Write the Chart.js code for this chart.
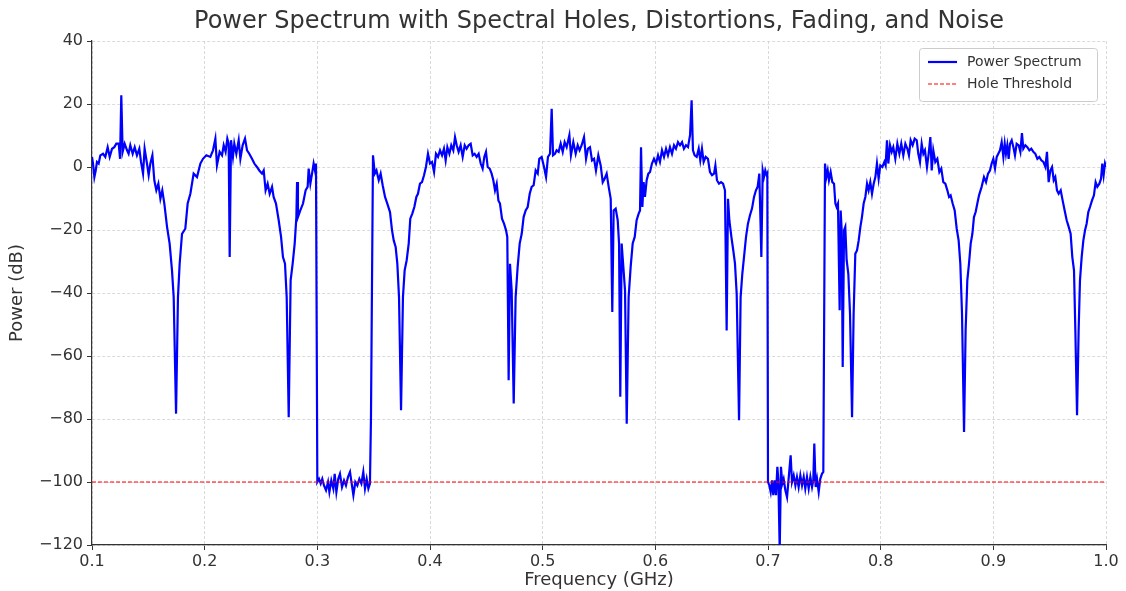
<!DOCTYPE html>
<html>
<head>
<meta charset="utf-8">
<script src="https://cdn.jsdelivr.net/npm/chart.js@4.4.1/dist/chart.umd.min.js"></script>
<style>
  html, body { margin: 0; padding: 0; background: #fff; }
  #wrap { width: 1126px; height: 591px; }
</style>
</head>
<body>
<div id="wrap"><canvas id="chart" width="1126" height="591"></canvas></div>
<script>
/* ── Data ──────────────────────────────────────────── */
const freqGHz = [
  0.1000, 0.1009, 0.1021, 0.1033, 0.1044, 0.1059, 0.1074, 0.1098, 0.1118, 0.1139,
  0.1157, 0.1178, 0.1198, 0.1216, 0.1237, 0.1249, 0.1260, 0.1272, 0.1290, 0.1311,
  0.1325, 0.1340, 0.1361, 0.1379, 0.1399, 0.1420, 0.1435, 0.1453, 0.1467, 0.1488,
  0.1503, 0.1518, 0.1536, 0.1553, 0.1571, 0.1589, 0.1607, 0.1624, 0.1642, 0.1666,
  0.1689, 0.1710, 0.1725, 0.1746, 0.1763, 0.1778, 0.1799, 0.1828, 0.1849, 0.1873,
  0.1902, 0.1932, 0.1962, 0.1985, 0.2015, 0.2050, 0.2074, 0.2095, 0.2109, 0.2133,
  0.2154, 0.2169, 0.2186, 0.2201, 0.2213, 0.2222, 0.2234, 0.2251, 0.2263, 0.2281,
  0.2302, 0.2317, 0.2337, 0.2358, 0.2376, 0.2396, 0.2420, 0.2441, 0.2464, 0.2485,
  0.2509, 0.2524, 0.2541, 0.2559, 0.2577, 0.2598, 0.2612, 0.2633, 0.2657, 0.2678,
  0.2695, 0.2713, 0.2728, 0.2746, 0.2763, 0.2781, 0.2799, 0.2814, 0.2820, 0.2828,
  0.2849, 0.2873, 0.2896, 0.2914, 0.2923, 0.2938, 0.2953, 0.2967, 0.2979, 0.2988,
  // hole 1
  0.3000, 0.3015, 0.3030, 0.3044, 0.3059, 0.3077, 0.3095, 0.3107, 0.3124, 0.3142,
  0.3154, 0.3169, 0.3186, 0.3201, 0.3219, 0.3237, 0.3254, 0.3272, 0.3290, 0.3305,
  0.3320, 0.3337, 0.3355, 0.3373, 0.3391, 0.3408, 0.3423, 0.3438, 0.3453, 0.3467,
  0.3476,
  0.3494, 0.3510, 0.3525, 0.3545, 0.3562, 0.3580, 0.3601, 0.3621, 0.3645, 0.3663,
  0.3678, 0.3695, 0.3710, 0.3725, 0.3743, 0.3760, 0.3775, 0.3793, 0.3811, 0.3825,
  0.3843, 0.3861, 0.3879, 0.3893, 0.3911, 0.3929, 0.3947, 0.3964, 0.3982, 0.4000,
  0.4018, 0.4036, 0.4053, 0.4071, 0.4089, 0.4107, 0.4124, 0.4139, 0.4154, 0.4172,
  0.4189, 0.4207, 0.4222, 0.4237, 0.4254, 0.4272, 0.4290, 0.4308, 0.4325, 0.4343,
  0.4361, 0.4379, 0.4396, 0.4414, 0.4432, 0.4450, 0.4467, 0.4482, 0.4497, 0.4512,
  0.4530, 0.4547, 0.4562, 0.4577, 0.4592, 0.4607, 0.4621, 0.4639, 0.4657, 0.4675,
  0.4686, 0.4698, 0.4710, 0.4725, 0.4743, 0.4760, 0.4778, 0.4796, 0.4814, 0.4831,
  0.4849, 0.4867, 0.4885, 0.4902, 0.4920, 0.4938, 0.4956, 0.4970,
  0.4991, 0.5012, 0.5030, 0.5047, 0.5065, 0.5080, 0.5092, 0.5109, 0.5124, 0.5142,
  0.5160, 0.5178, 0.5195, 0.5213, 0.5237, 0.5251, 0.5272, 0.5293, 0.5311, 0.5328,
  0.5346, 0.5367, 0.5385, 0.5402, 0.5420, 0.5438, 0.5456, 0.5473, 0.5494, 0.5515,
  0.5533, 0.5550, 0.5568, 0.5586, 0.5604, 0.5618, 0.5630, 0.5648, 0.5666, 0.5678,
  0.5689, 0.5701, 0.5716, 0.5731, 0.5746, 0.5763, 0.5781, 0.5799, 0.5817, 0.5834,
  0.5852, 0.5864, 0.5873, 0.5885, 0.5896, 0.5908, 0.5923, 0.5938, 0.5953, 0.5970,
  0.5988, 0.6006, 0.6024, 0.6041, 0.6059, 0.6077, 0.6095, 0.6112, 0.6130, 0.6148,
  0.6166, 0.6183, 0.6201, 0.6219, 0.6237, 0.6254, 0.6272, 0.6290, 0.6308, 0.6322,
  0.6334, 0.6349, 0.6367, 0.6385, 0.6399, 0.6414, 0.6429, 0.6447, 0.6467, 0.6485,
  0.6503, 0.6521, 0.6533, 0.6547, 0.6565, 0.6583, 0.6601, 0.6618, 0.6633, 0.6645,
  0.6657, 0.6675, 0.6692, 0.6707, 0.6722, 0.6743, 0.6757, 0.6772, 0.6787, 0.6805,
  0.6822, 0.6840, 0.6858, 0.6876, 0.6893, 0.6908, 0.6923, 0.6941, 0.6953, 0.6964,
  0.6976, 0.6988, 0.6994,
  // hole 2
  0.7000, 0.7012, 0.7024, 0.7036, 0.7047, 0.7059, 0.7071, 0.7083, 0.7092, 0.7104,
  0.7115, 0.7127, 0.7139, 0.7154, 0.7169, 0.7183, 0.7201, 0.7213, 0.7228, 0.7243,
  0.7257, 0.7272, 0.7287, 0.7302, 0.7317, 0.7331, 0.7346, 0.7361, 0.7376, 0.7391,
  0.7402, 0.7411, 0.7423, 0.7435, 0.7450, 0.7464, 0.7479, 0.7491,
  0.7506, 0.7518, 0.7530, 0.7541, 0.7556, 0.7571, 0.7586, 0.7598, 0.7609, 0.7621,
  0.7636, 0.7645, 0.7654, 0.7663, 0.7675, 0.7686, 0.7698, 0.7713, 0.7728, 0.7746,
  0.7760, 0.7775, 0.7790, 0.7805, 0.7820, 0.7834, 0.7849, 0.7864, 0.7879, 0.7893,
  0.7908, 0.7923, 0.7938, 0.7953, 0.7967, 0.7982, 0.7997, 0.8015, 0.8033, 0.8044,
  0.8056, 0.8068, 0.8083, 0.8098, 0.8112, 0.8130, 0.8148, 0.8166, 0.8183, 0.8201,
  0.8219, 0.8237, 0.8251, 0.8266, 0.8284, 0.8302, 0.8320, 0.8334, 0.8349, 0.8364,
  0.8379, 0.8393, 0.8411, 0.8426, 0.8441, 0.8453, 0.8467, 0.8485, 0.8503, 0.8521,
  0.8538, 0.8556, 0.8574, 0.8592, 0.8607, 0.8621, 0.8639, 0.8657, 0.8675, 0.8692,
  0.8707, 0.8722, 0.8740, 0.8754, 0.8769, 0.8784, 0.8799, 0.8814, 0.8828, 0.8843,
  0.8858, 0.8873, 0.8896, 0.8917, 0.8935, 0.8953, 0.8970, 0.8985, 0.9000, 0.9015,
  0.9030, 0.9044, 0.9059, 0.9074, 0.9089, 0.9101, 0.9112, 0.9124, 0.9136, 0.9148,
  0.9163, 0.9178, 0.9192, 0.9207, 0.9225, 0.9240, 0.9254, 0.9266, 0.9284, 0.9302,
  0.9320, 0.9337, 0.9355, 0.9373, 0.9391, 0.9408, 0.9426, 0.9444, 0.9462, 0.9476,
  0.9491, 0.9506, 0.9521, 0.9536, 0.9550, 0.9565, 0.9580, 0.9598, 0.9615, 0.9633,
  0.9651, 0.9669, 0.9686, 0.9701, 0.9716, 0.9728, 0.9743, 0.9757, 0.9769, 0.9784,
  0.9799, 0.9814, 0.9828, 0.9843, 0.9858, 0.9876, 0.9893, 0.9908, 0.9923, 0.9941,
  0.9956, 0.9967, 0.9979, 0.9991, 1.0000
];

const powerDb = [
  3.2, 1.1, -3.2, -1.1, 1.6, 1.1, 3.7, 4.2, 3.2, 6.3,
  3.2, 5.8, 6.3, 7.4, 7.4, 2.6, 22.8, 4.8, 7.4, 5.3,
  4.2, 6.9, 4.2, 6.3, 3.7, 5.8, 1.6, -2.1, 5.8, 1.1,
  -2.6, 1.1, 3.7, -4.2, -7.4, -5.3, -10.1, -7.4, -11.6, -19.0,
  -24.3, -32.8, -41.3, -78.3, -41.3, -30.7, -21.2, -19.6, -11.6, -8.5,
  -2.1, -3.2, 1.1, 2.6, 3.7, 3.2, 5.3, 9.0, 0.5, 4.8,
  3.7, 6.9, 4.8, 9.0, 7.4, -28.6, 8.5, 3.2, 7.4, 4.2,
  8.5, 2.6, 6.9, 9.0, 5.3, 4.2, 2.6, 1.1, 0.0, -1.1,
  -2.1, -1.1, -7.4, -5.3, -8.5, -6.3, -9.5, -11.6, -16.9, -22.2,
  -28.6, -30.7, -41.3, -79.4, -36.0, -30.7, -24.3, -15.9, -4.8, -15.9,
  -13.8, -11.6, -7.4, -6.3, -0.5, -5.3, -2.1, 1.1, -1.1, 1.1,
  // hole 1
  -100.0, -99.0, -100.5, -99.0, -101.1, -102.6, -100.0, -103.2, -99.5, -102.1,
  -97.4, -103.2, -99.0, -97.4, -101.6, -99.5, -101.1, -98.4, -96.8, -100.5,
  -104.2, -100.0, -101.1, -99.0, -100.5, -96.8, -102.1, -99.0, -102.1, -100.5,
  -79.9,
  3.7, -2.1, -1.1, -4.2, -2.1, -5.8, -9.5, -11.6, -14.3, -20.1,
  -23.3, -25.4, -30.7, -41.3, -77.2, -41.3, -32.8, -29.6, -24.3, -16.4,
  -14.8, -12.7, -9.5, -8.5, -5.3, -4.8, -2.6, 0.0, 4.2, 1.1,
  1.6, -1.6, 4.2, 3.2, 5.3, 3.7, 5.8, 2.1, 6.3, 4.2,
  6.9, 5.3, 9.5, 6.9, 4.8, 6.9, 3.2, 6.9, 5.8, 6.9,
  7.4, 3.7, 4.2, 3.2, 4.2, 1.1, -0.5, 3.2, 4.8, 0.0,
  -0.5, -2.1, -4.2, -7.4, -5.3, -10.6, -11.6, -16.4, -18.0, -20.1,
  -22.2, -67.7, -30.7, -39.2, -75.1, -41.3, -31.7, -24.3, -21.2, -15.9,
  -13.8, -12.7, -8.5, -6.3, -5.8, -1.1, -2.1, 2.6,
  3.2, 0.0, -3.2, 3.2, 4.2, 18.5, 3.7, 4.2, 5.3, 4.8,
  7.4, 4.8, 7.9, 6.3, 10.1, 3.7, 7.9, 4.2, 6.9, 5.3,
  6.9, 9.5, 2.6, 5.8, 6.3, 2.1, 2.6, -1.1, 3.7, 0.5,
  -4.8, -3.7, -2.1, -6.3, -10.1, -46.0, -13.8, -13.2, -16.9, -24.3,
  -72.9, -24.3, -31.7, -39.2, -81.5, -41.3, -31.7, -24.3, -22.2, -16.9,
  -14.8, -13.8, 6.3, -12.7, -4.8, -9.5, -4.2, -2.1, -1.6, 1.1,
  2.6, 1.1, 3.7, 1.6, 5.3, 3.2, 5.8, 3.7, 6.3, 4.2,
  6.9, 5.8, 7.9, 6.9, 7.9, 5.8, 6.9, 6.3, 10.1, 21.2,
  5.3, 3.7, 3.2, 5.8, 2.1, 5.8, 1.6, 3.2, 2.6, -1.6,
  -2.6, -2.1, 0.5, -4.2, -5.3, -4.8, -5.3, -7.4, -51.9, -10.1,
  -16.9, -22.2, -26.5, -30.7, -40.2, -80.4, -41.3, -33.9, -28.6, -22.2,
  -18.0, -15.3, -13.2, -9.5, -7.4, -6.3, -2.1, -28.6, -1.1, -3.2,
  -1.1, -2.6, -2.1,
  // hole 2
  -100.0, -101.1, -103.2, -99.5, -104.2, -99.5, -104.2, -95.2, -99.5, -121.7,
  -95.2, -100.5, -99.0, -102.6, -104.8, -99.0, -91.5, -100.0, -97.9, -101.1,
  -98.4, -101.6, -97.9, -101.1, -98.4, -102.1, -98.4, -102.1, -98.4, -101.6,
  -99.5, -87.8, -101.6, -99.0, -103.2, -99.0, -97.4, -96.8,
  1.1, -3.2, -1.1, -4.2, -1.6, -4.8, -5.3, -11.6, -12.7, -11.6,
  -45.5, -13.8, -20.1, -63.5, -20.1, -19.0, -29.6, -33.9, -46.6, -79.4,
  -46.6, -27.5, -26.5, -23.3, -19.0, -15.9, -11.6, -9.5, -5.3, -7.4,
  -4.8, -8.5, -5.3, -3.2, 1.1, -3.7, 0.5, 0.0, 1.6, 0.5,
  8.5, 1.1, 6.9, 4.8, 6.3, 2.6, 7.4, 4.2, 7.4, 3.7,
  7.4, 5.8, 3.7, 8.5, 6.9, 9.0, 8.5, 4.2, 1.6, 7.4,
  4.2, 5.3, 0.0, 4.2, 9.5, -1.1, 5.3, 1.6, 2.6, -1.6,
  -0.5, -4.8, -5.3, -7.4, -9.5, -9.0, -11.6, -13.8, -19.6, -23.3,
  -30.7, -46.6, -84.1, -51.9, -36.0, -30.7, -24.3, -21.2, -15.9, -14.3,
  -11.6, -9.0, -6.3, -3.2, -4.8, -2.1, -1.1, 1.1, 2.6, -0.5,
  3.2, 4.2, 5.3, 7.9, 3.2, 7.4, 4.2, 6.9, 2.6, 7.4,
  8.5, 6.3, 3.7, 7.4, 6.9, 4.8, 10.8, 5.8, 6.9, 6.3,
  5.3, 5.8, 4.8, 4.2, 2.6, 3.2, 2.1, 1.6, 0.0, 4.8,
  -4.8, -1.1, 0.0, -4.2, -3.2, -7.4, -8.5, -7.4, -10.6, -13.8,
  -16.9, -19.0, -21.2, -28.6, -32.8, -51.9, -78.8, -51.9, -36.0, -28.6,
  -23.3, -20.1, -18.0, -14.3, -12.7, -10.6, -9.0, -4.8, -6.3, -5.3,
  -3.7, 1.1, -2.6, 1.1, 0.0
];

const thresholdFreq = [0.1, 1.0];
const thresholdDb = [-100, -100];

const xTicks = [0.1, 0.2, 0.3, 0.4, 0.5, 0.6, 0.7, 0.8, 0.9, 1.0];
const yTicks = [-120, -100, -80, -60, -40, -20, 0, 20, 40];

const chartTitle = 'Power Spectrum with Spectral Holes, Distortions, Fading, and Noise';

/* ── Styling ────────────────────────────────────────── */
const FONT = "'DejaVu Sans', sans-serif";
const TXT = '#333333';
const GRID = '#d0d0d0';

const spectrumPts = freqGHz.map((f, i) => ({ x: f, y: powerDb[i] }));
const thresholdPts = thresholdFreq.map((f, i) => ({ x: f, y: thresholdDb[i] }));

const fmtMinus = v => String(v).replace('-', '\u2212');

/* ── Title centred over the plot area ───────────────── */
const plotTitle = {
  id: 'plotTitle',
  afterDraw(chart) {
    const { ctx, chartArea } = chart;
    ctx.save();
    ctx.font = `24px ${FONT}`;
    ctx.fillStyle = TXT;
    ctx.textAlign = 'center';
    ctx.textBaseline = 'middle';
    ctx.fillText(chartTitle, (chartArea.left + chartArea.right) / 2, 22);
    ctx.restore();
  }
};

/* ── Legend drawn inside plot, top-right ────────────── */
const insideLegend = {
  id: 'insideLegend',
  afterDraw(chart) {
    const { ctx, chartArea } = chart;
    const w = 178, h = 53;
    const x0 = chartArea.right - w - 9, y0 = chartArea.top + 7;
    ctx.save();
    ctx.fillStyle = 'rgba(255,255,255,0.85)';
    ctx.strokeStyle = '#cccccc';
    ctx.lineWidth = 1;
    ctx.beginPath();
    ctx.roundRect(x0 + 0.5, y0 + 0.5, w, h, 3);
    ctx.fill();
    ctx.stroke();
    ctx.font = `14px ${FONT}`;
    ctx.fillStyle = TXT;
    ctx.textBaseline = 'middle';
    chart.data.datasets.forEach((ds, i) => {
      const ly = y0 + 14 + i * 22;
      ctx.strokeStyle = ds.borderColor;
      ctx.lineWidth = ds.borderWidth;
      ctx.setLineDash(ds.borderDash || []);
      ctx.beginPath();
      ctx.moveTo(x0 + 9, ly);
      ctx.lineTo(x0 + 38, ly);
      ctx.stroke();
      ctx.setLineDash([]);
      ctx.fillText(ds.label, x0 + 48, ly);
    });
    ctx.restore();
  }
};

/* ── Chart ──────────────────────────────────────────── */
new Chart(document.getElementById('chart'), {
  type: 'line',
  data: {
    datasets: [
      {
        label: 'Power Spectrum',
        data: spectrumPts,
        borderColor: '#0000ff',
        borderWidth: 2.2,
        pointRadius: 0,
        tension: 0,
        order: 1
      },
      {
        label: 'Hole Threshold',
        data: thresholdPts,
        borderColor: '#ff0000',
        borderWidth: 1,
        borderDash: [4, 2],
        pointRadius: 0,
        order: 0
      }
    ]
  },
  options: {
    responsive: false,
    animation: false,
    layout: { padding: { left: 0, right: 20, top: 41, bottom: 0 } },
    plugins: {
      legend: { display: false },
      tooltip: { enabled: false },
      title: { display: false }
    },
    scales: {
      x: {
        type: 'linear',
        min: 0.1,
        max: 1.0,
        afterBuildTicks: s => { s.ticks = xTicks.map(v => ({ value: v })); },
        afterFit: s => { s.height = 46; },
        ticks: {
          color: TXT,
          font: { family: FONT, size: 16 },
          padding: 2,
          maxRotation: 0,
          callback: v => v.toFixed(1)
        },
        grid: { color: GRID, lineWidth: 0.8, tickColor: TXT, tickLength: 5, tickWidth: 1 },
        border: { color: TXT, width: 1.2, dash: [3, 2] },
        title: {
          display: true,
          text: 'Frequency (GHz)',
          color: TXT,
          font: { family: FONT, size: 18 },
          padding: { top: 0, bottom: 0 }
        }
      },
      y: {
        type: 'linear',
        min: -120,
        max: 40,
        afterBuildTicks: s => { s.ticks = yTicks.map(v => ({ value: v })); },
        afterFit: s => { s.width = 92; },
        ticks: {
          color: TXT,
          font: { family: FONT, size: 16 },
          padding: 4,
          callback: v => fmtMinus(v)
        },
        grid: { color: GRID, lineWidth: 0.8, tickColor: TXT, tickLength: 5, tickWidth: 1 },
        border: { color: TXT, width: 1.2, dash: [3, 2] },
        title: {
          display: true,
          text: 'Power (dB)',
          color: TXT,
          font: { family: FONT, size: 18 },
          padding: { top: 7, bottom: 0 }
        }
      }
    }
  },
  plugins: [plotTitle, insideLegend]
});
</script>
</body>
</html>
